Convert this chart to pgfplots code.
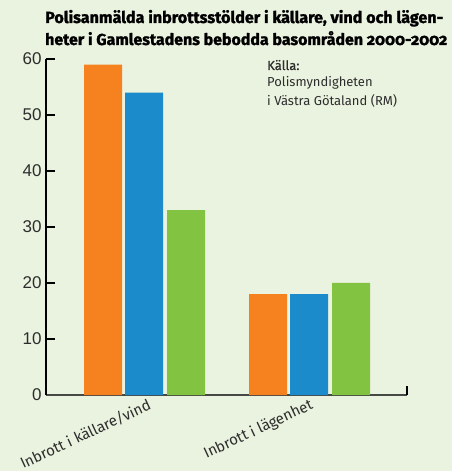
\documentclass[border=0pt]{standalone}
\usepackage{pgfplots}
\pgfplotsset{compat=1.18}
\usepackage{fontspec}
\setmainfont{Fira Sans}
\newfontfamily\titlefont[Numbers=OldStyle,FakeBold=1.5]{Fira Sans}
\newfontfamily\medfont[FakeBold=0.7]{Fira Sans}
\newfontfamily\arialfont{Liberation Sans}
\definecolor{bg}{RGB}{234,243,223}
\definecolor{orangebar}{RGB}{245,130,31}
\definecolor{bluebar}{RGB}{27,139,203}
\definecolor{greenbar}{RGB}{130,195,65}
\definecolor{txt}{RGB}{45,45,45}
\definecolor{axgray}{RGB}{70,72,68}
\begin{document}
\begin{tikzpicture}[x=1pt,y=1pt]
\useasboundingbox (0,0) rectangle (452,471);
\fill[bg] (0,0) rectangle (452,471);
\node[anchor=base west,inner sep=0pt,text=black] at (45,448) {\resizebox{398pt}{!}{\titlefont\bfseries Polisanmälda inbrottsstölder i källare, vind och lägen-}};
\node[anchor=base west,inner sep=0pt,text=black] at (45,426) {\resizebox{402pt}{!}{\titlefont\bfseries heter i Gamlestadens bebodda basområden 2000-2002}};
\node[anchor=base west,inner sep=0pt,text=txt,font=\fontsize{13}{15}\selectfont\medfont] at (267,401) {Källa:};
\node[anchor=base west,inner sep=0pt,text=txt,font=\fontsize{13}{15}\selectfont] at (267,384) {Polismyndigheten};
\node[anchor=base west,inner sep=0pt,text=txt,font=\fontsize{13}{15}\selectfont] at (267,365) {i Västra Götaland (RM)};
\begin{axis}[
  at={(46pt,76pt)}, anchor=south west,
  scale only axis, width=361pt, height=336pt,
  xmin=0, xmax=361, ymin=0, ymax=60,
  axis x line*=bottom, axis y line*=left,
  x axis line style={draw=axgray, line width=2pt, -},
  y axis line style={draw=black, line width=1.2pt, -},
  ytick={0,10,20,30,40,50,60},
  tick align=inside,
  major tick length=9pt,
  ytick style={draw=black, line width=1.2pt},
  xtick={102,264},
  xticklabels={Inbrott i källare/vind, Inbrott i lägenhet},
  xtick style={draw=none},
  x tick label style={rotate=25, anchor=north east, text=txt, font=\fontsize{15}{17}\selectfont, inner sep=2pt},
  y tick label style={text=txt, font=\arialfont\fontsize{17}{19}\selectfont, xshift=-1pt},
  /pgf/number format/assume math mode=true,
  clip=false,
]
\addplot[ybar, bar width=38, bar shift=0pt, fill=orangebar, draw=none] coordinates {(57,59) (222,18)};
\addplot[ybar, bar width=38, bar shift=0pt, fill=bluebar, draw=none] coordinates {(98,54) (263,18)};
\addplot[ybar, bar width=38, bar shift=0pt, fill=greenbar, draw=none] coordinates {(140,33) (305,20)};
\draw[black, line width=1.2pt] (axis cs:361,0) -- ++(0,9pt);
\end{axis}
\end{tikzpicture}
\end{document}
